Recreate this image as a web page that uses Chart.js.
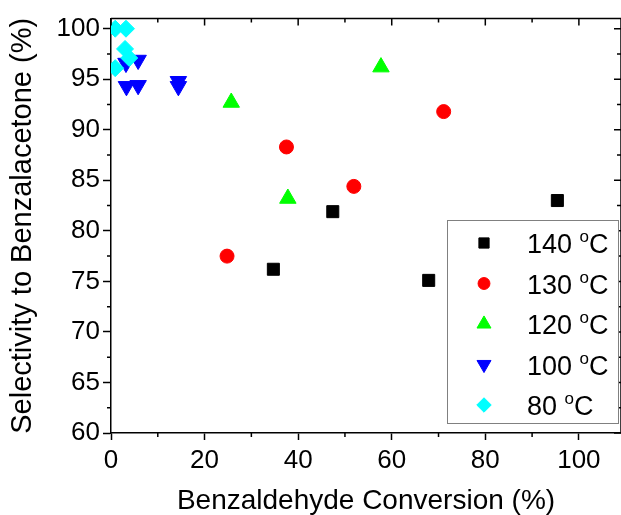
<!DOCTYPE html>
<html>
<head>
<meta charset="utf-8">
<script src="https://cdn.jsdelivr.net/npm/chart.js@4/dist/chart.umd.min.js"></script>
<style>
  html, body { margin: 0; padding: 0; background: #fff; }
</style>
</head>
<body>
<canvas id="myChart" width="621" height="515"></canvas>
<script>
// series names (temperature, deg C)
const temps = ["140", "130", "120", "100", "80"];

// conversion (%) / selectivity (%) per temperature
const conv140 = [34.7, 47.4, 67.9, 95.4];
const sel140 = [76.2, 81.9, 75.1, 83.0];
const conv130 = [24.8, 37.5, 51.9, 71.1];
const sel130 = [77.5, 88.3, 84.4, 91.8];
const conv120 = [25.7, 37.8, 57.7];
const sel120 = [92.7, 83.2, 96.2];
const conv100 = [3.2, 5.8, 3.3, 5.8, 14.4, 14.4];
const sel100 = [96.6, 96.9, 94.3, 94.4, 94.8, 94.3];
const conv80 = [0.9, 3.2, 3.0, 3.9, 0.9];
const sel80 = [100.0, 100.0, 98.0, 97.1, 96.1];

const xTicks = [0, 20, 40, 60, 80, 100];
const yTicks = [60, 65, 70, 75, 80, 85, 90, 95, 100];

const FONT = "'Liberation Sans', Arial, sans-serif";

function pts(xs, ys) {
  return xs.map((x, i) => ({ x: x, y: ys[i] }));
}

const styles = [
  { color: "#000000", pointStyle: "rect", radius: 8.5, rotation: 0 },
  { color: "#ff0000", pointStyle: "circle", radius: 7, rotation: 0 },
  { color: "#00ff00", pointStyle: "triangle", radius: 9.5, rotation: 0 },
  { color: "#0000ff", pointStyle: "triangle", radius: 9.5, rotation: 180 },
  { color: "#00ffff", pointStyle: "rectRot", radius: 8.5, rotation: 0 },
];
const allData = [
  pts(conv140, sel140),
  pts(conv130, sel130),
  pts(conv120, sel120),
  pts(conv100, sel100),
  pts(conv80, sel80),
];

// frame, minor ticks, inward ticks on top / right
const framePlugin = {
  id: "frame",
  afterDraw(chart) {
    const ctx = chart.ctx;
    const a = chart.chartArea;
    const xs = chart.scales.x;
    const ys = chart.scales.y;
    ctx.save();
    ctx.strokeStyle = "#000";
    ctx.lineWidth = 1.5;
    ctx.beginPath();
    ctx.moveTo(a.left, a.top);
    ctx.lineTo(a.right, a.top);
    ctx.lineTo(a.right, a.bottom);
    ctx.stroke();
    ctx.beginPath();
    for (let v = 0; v <= 100; v += 10) {
      const px = xs.getPixelForValue(v);
      const len = v % 20 === 0 ? 7 : 4;
      ctx.moveTo(px, a.top);
      ctx.lineTo(px, a.top + len);
      if (v % 20 !== 0) {
        ctx.moveTo(px, a.bottom);
        ctx.lineTo(px, a.bottom + 4);
      }
    }
    for (let v = 60; v <= 100; v += 2.5) {
      const py = ys.getPixelForValue(v);
      const len = v % 5 === 0 ? 7 : 4;
      ctx.moveTo(a.right, py);
      ctx.lineTo(a.right - len, py);
      if (v % 5 !== 0) {
        ctx.moveTo(a.left, py);
        ctx.lineTo(a.left - 4, py);
      }
    }
    ctx.stroke();
    ctx.restore();
  },
};

// legend box inside the plot area
const legendPlugin = {
  id: "boxLegend",
  afterDraw(chart) {
    const ctx = chart.ctx;
    const a = chart.chartArea;
    const w = 171, h = 203;
    const bx = 447, by = a.bottom - h - 10;
    ctx.save();
    ctx.fillStyle = "#fff";
    ctx.fillRect(bx, by, w, h);
    ctx.strokeStyle = "#808080";
    ctx.lineWidth = 1;
    ctx.strokeRect(bx + 0.5, by + 0.5, w, h);
    ctx.textBaseline = "alphabetic";
    temps.forEach((t, i) => {
      const cy = by + 23 + i * 40.5;
      const st = styles[i];
      ctx.fillStyle = st.color;
      ctx.strokeStyle = st.color;
      Chart.helpers.drawPoint(ctx, {
        pointStyle: st.pointStyle,
        radius: st.radius * 0.85,
        rotation: st.rotation,
        borderWidth: 1,
      }, bx + 37, cy);
      ctx.fillStyle = "#000";
      const base = cy + 10;
      let x = bx + 80;
      ctx.font = "27px " + FONT;
      const num = t + " ";
      ctx.fillText(num, x, base);
      x += ctx.measureText(num).width;
      ctx.font = "17px " + FONT;
      ctx.fillText("o", x, base - 11);
      x += ctx.measureText("o").width;
      ctx.font = "27px " + FONT;
      ctx.fillText("C", x, base);
    });
    ctx.restore();
  },
};

const ctx = document.getElementById("myChart").getContext("2d");

new Chart(ctx, {
  type: "scatter",
  data: {
    datasets: allData.map((d, i) => ({
      label: temps[i] + " \u00B0C",
      data: d,
      backgroundColor: styles[i].color,
      borderColor: styles[i].color,
      borderWidth: 1,
      pointStyle: styles[i].pointStyle,
      pointRadius: styles[i].radius,
      pointRotation: styles[i].rotation,
      order: i === 4 ? -1 : i,
    })),
  },
  options: {
    responsive: false,
    animation: false,
    layout: { autoPadding: false, padding: { top: 16, right: -2, left: 0, bottom: 0 } },
    plugins: {
      legend: { display: false },
      tooltip: { enabled: false },
    },
    scales: {
      x: {
        type: "linear",
        min: 0,
        max: 109,
        afterBuildTicks: (s) => {
          s.ticks = xTicks.map((v) => ({ value: v }));
        },
        afterFit: (s) => {
          s.height = 82;
          s.paddingLeft = 0;
          s.paddingRight = 0;
        },
        ticks: {
          color: "#000",
          font: { family: FONT, size: 26 },
          padding: 5,
          maxRotation: 0,
        },
        grid: { display: true, drawOnChartArea: false, tickLength: 7, tickColor: "#000", tickWidth: 1.5 },
        border: { display: true, color: "#000", width: 1.5 },
        title: {
          display: true,
          text: "Benzaldehyde Conversion (%)",
          color: "#000",
          font: { family: FONT, size: 28, lineHeight: 1 },
          padding: 0,
        },
      },
      y: {
        type: "linear",
        min: 60,
        max: 101,
        afterBuildTicks: (s) => {
          s.ticks = yTicks.map((v) => ({ value: v }));
        },
        afterFit: (s) => {
          s.width = 111;
        },
        ticks: {
          color: "#000",
          font: { family: FONT, size: 26 },
          padding: 3,
        },
        grid: { display: true, drawOnChartArea: false, tickLength: 8, tickColor: "#000", tickWidth: 1.5 },
        border: { display: true, color: "#000", width: 1.5 },
        title: {
          display: true,
          text: "Selectivity to Benzalacetone (%)",
          color: "#000",
          font: { family: FONT, size: 29, lineHeight: 1 },
          padding: { top: 8, bottom: 0 },
        },
      },
    },
  },
  plugins: [framePlugin, legendPlugin],
});
</script>
</body>
</html>
